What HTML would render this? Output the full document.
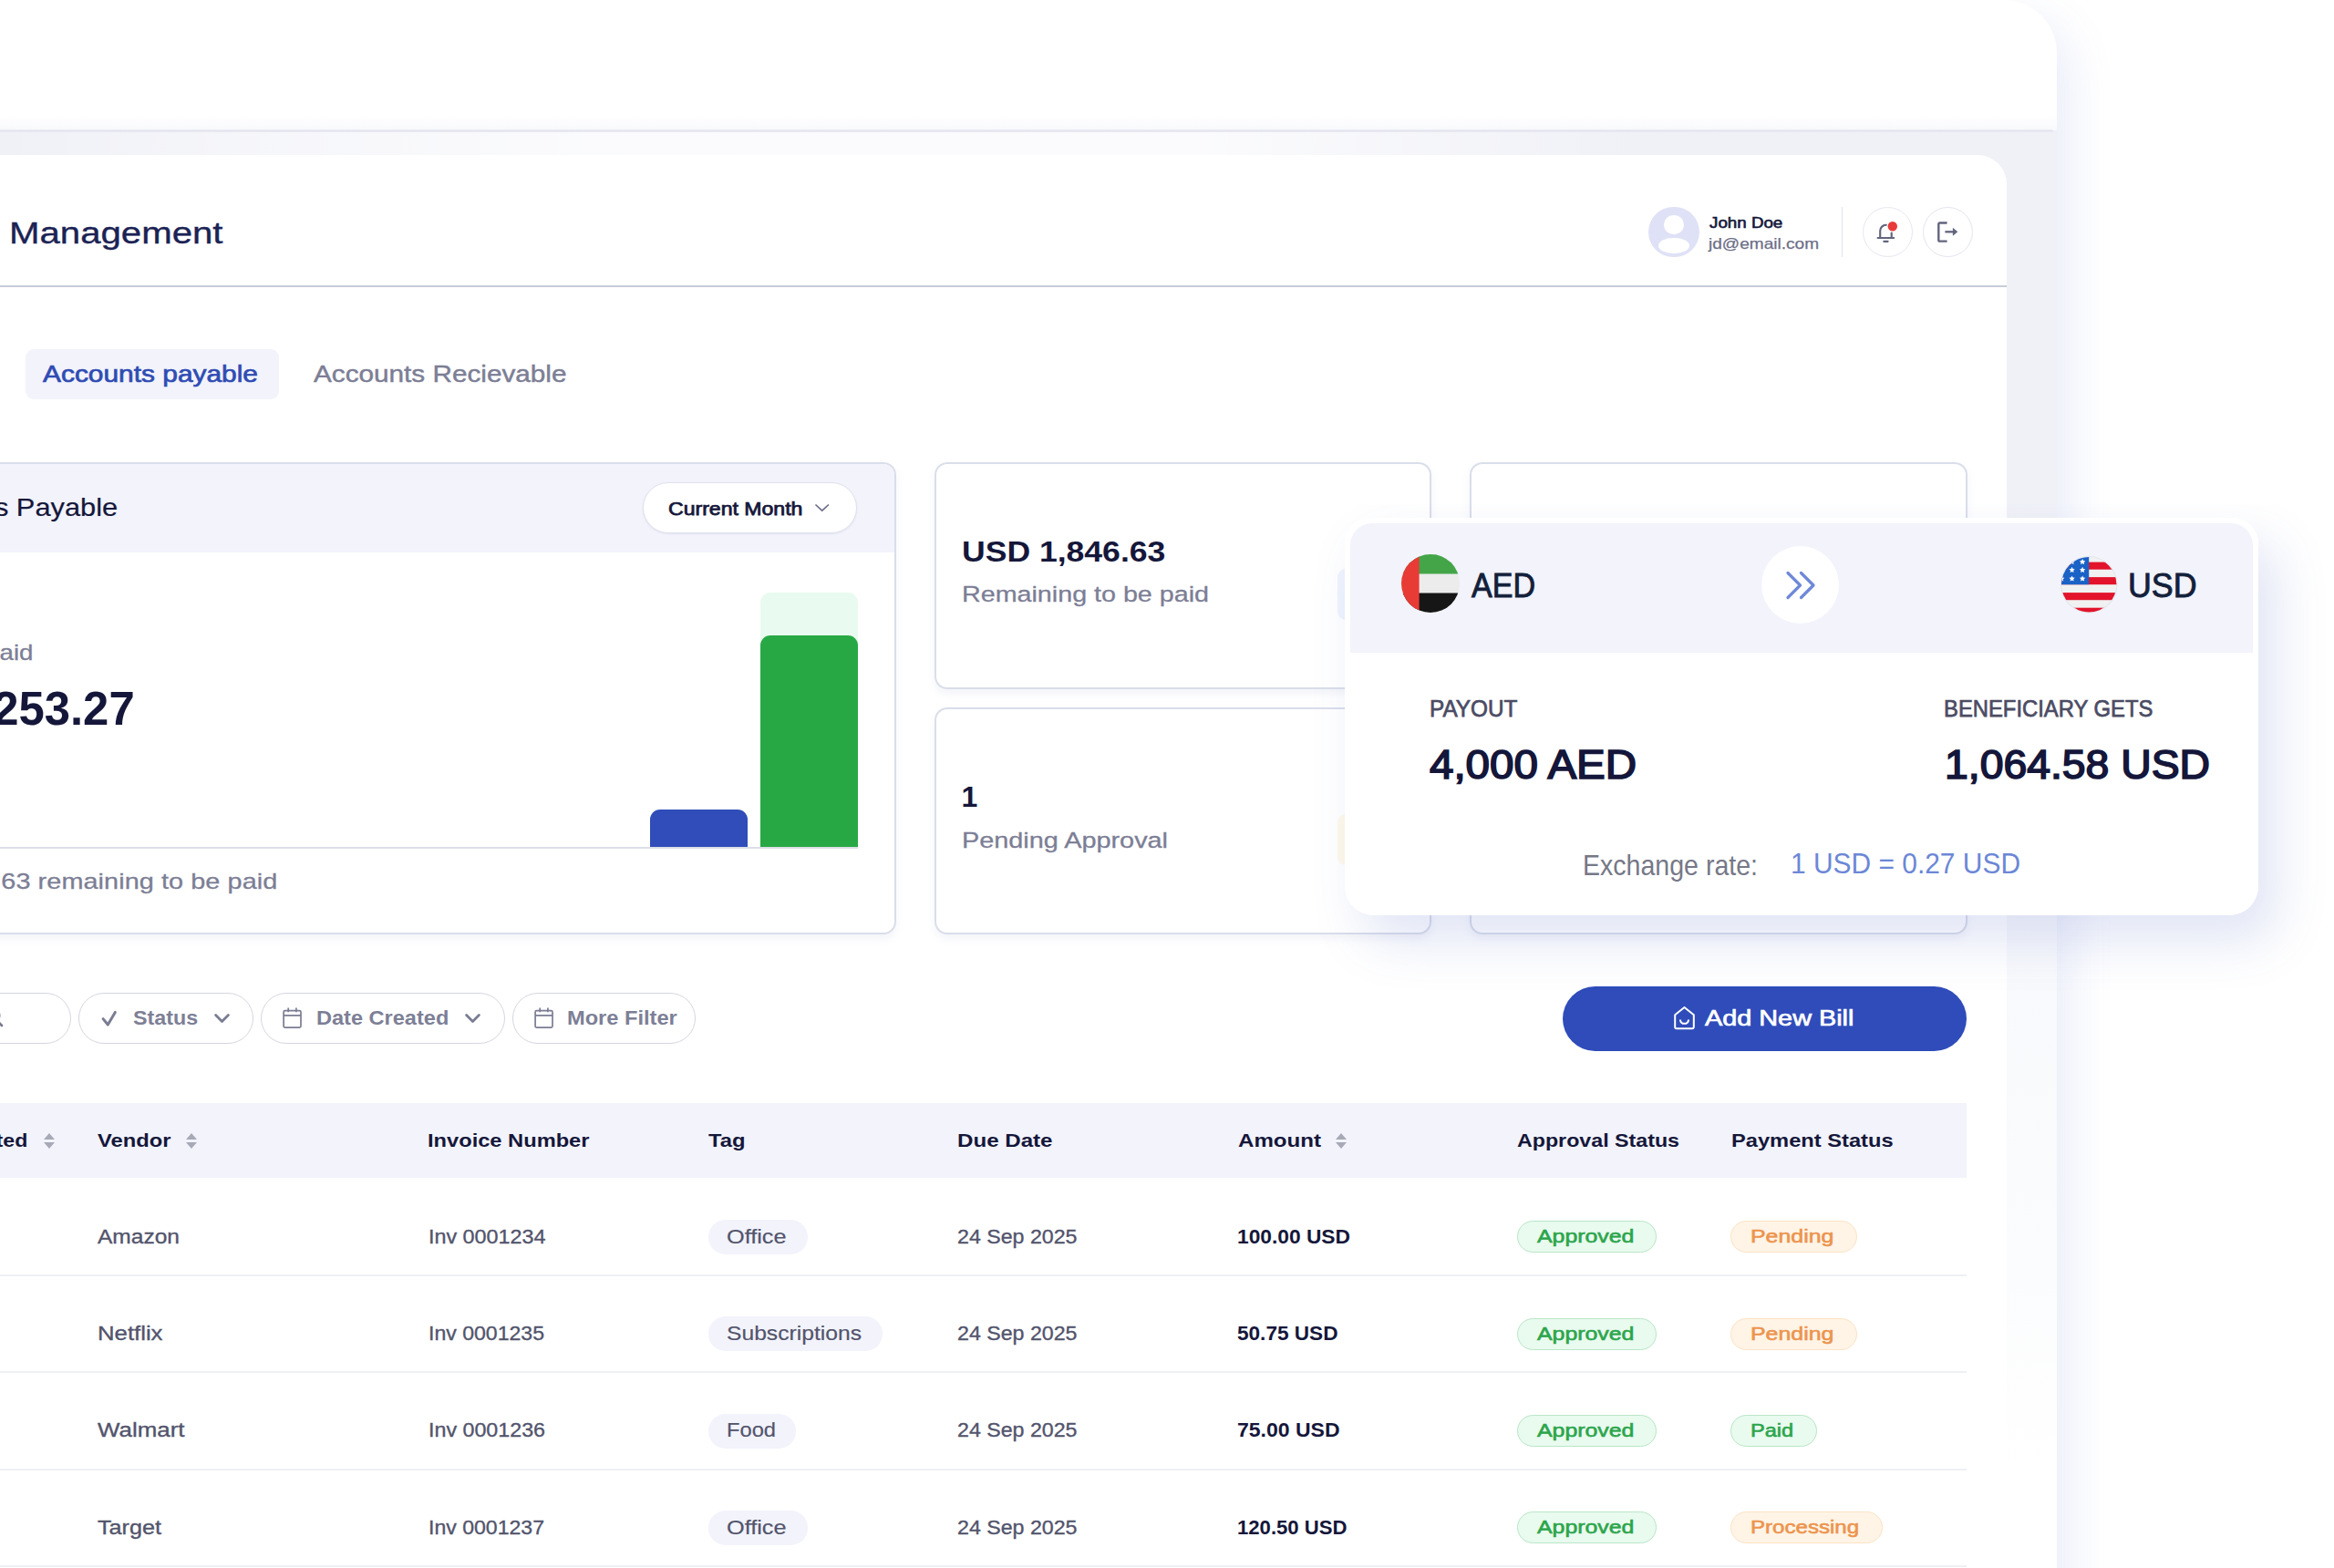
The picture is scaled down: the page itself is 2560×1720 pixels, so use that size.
<!DOCTYPE html>
<html lang="en"><head><meta charset="utf-8"><title>Bill Management</title>
<style>
html,body{margin:0;padding:0}
html{overflow:hidden;width:2560px;height:1720px}
body{width:2560px;height:1720px;position:relative;overflow:hidden;background:#fff;font-family:"Liberation Sans","DejaVu Sans",sans-serif}
.page{position:absolute;left:0;top:0;width:2560px;height:1720px;overflow:hidden;background:#fff}
.a{position:absolute;box-sizing:border-box}
span.t{position:absolute;white-space:nowrap}
.card{background:#fff;border:2px solid #dadeea;border-radius:14px;box-shadow:0 5px 10px rgba(160,170,205,.13)}
.pill{background:#fff;border:1.6px solid #d5d6e0;border-radius:30px;height:56px;top:1089px}
.sep{left:0;width:2157px;height:2px;background:#eff0f4}
.tag{height:38px;border-radius:19px;background:#f2f3fb}
.ok{height:35px;border-radius:18px;background:#e9faef;border:1px solid #b9e6c7}
.wait{height:35px;border-radius:18px;background:#fff4e6;border:1px solid #fbe3c4}
svg{position:absolute;overflow:visible}
</style></head>
<body>
<div class="page">
<div class="app-window">
<div class="a" style="left:-100px;top:0;width:2356px;height:1900px;border-radius:0 58px 0 0;background:#fff;box-shadow:14px 20px 50px rgba(95,115,205,.13)"></div>
<div class="a" style="left:0;top:126px;width:2256px;height:17px;background:linear-gradient(to bottom,rgba(248,249,252,0),rgba(248,249,252,1))"></div>
<div class="a" style="left:0;top:143px;width:2256px;height:1577px;background:linear-gradient(to bottom,#f0f1f7 0,#f0f1f7 380px,#f3f4f9 700px,#f8f9fc 900px,#fbfcfd 1250px,#fff 1480px)"></div>
<div class="a" style="left:0;top:145px;width:1800px;height:25px;background:linear-gradient(to right,rgba(255,255,255,0) 0,rgba(255,255,255,.42) 300px,rgba(255,255,255,.7) 640px,rgba(255,255,255,.75) 1300px,rgba(255,255,255,.3) 1600px,rgba(255,255,255,0) 1800px)"></div>
<div class="a" style="left:0;top:142px;width:2252px;height:3px;background:linear-gradient(to bottom,#eeeff5,#e4e5ee 50%,#e9eaf2);border-radius:0 3px 3px 0"></div>
<div class="a" style="left:-60px;top:170px;width:2261px;height:1700px;border-radius:0 32px 0 0;background:#fff"></div>
<div class="a" style="left:0;top:313px;width:2201px;height:1.6px;background:#c8cdd6"></div>
</div>
<header>
<div class="a" style="left:1808px;top:226.5px;width:55.5px;height:55.5px;border-radius:50%;background:#dfe1f6;overflow:hidden"><div class="a" style="left:17px;top:9px;width:21.5px;height:21.5px;border-radius:50%;background:#fff"></div><div class="a" style="left:11px;top:34px;width:33.5px;height:17.5px;border-radius:50%;background:#fff"></div></div>
<div class="a" style="left:2019.5px;top:227px;width:1.5px;height:55px;background:#e0e2ec"></div>
<div class="a" style="left:2042.5px;top:227px;width:55px;height:55px;border-radius:50%;border:1.5px solid #e6e7f1;background:#fff"></div>
<div class="a" style="left:2108.8px;top:227px;width:55px;height:55px;border-radius:50%;border:1.5px solid #e3e5ef;background:#fff"></div>
<svg style="left:2050px;top:235px" width="110" height="40" viewBox="2050 235 110 40"><g fill="none" stroke="#63657d" stroke-width="2.15" stroke-linecap="round" stroke-linejoin="round"><path d="M2059.6 261H2077.2M2062.2 261V253.3a6.4 6.5 0 0 1 6.6-6.5M2074.7 255.6V261M2066.3 264.8H2070.6"/><path d="M2135.6 244.5H2127.7a1.4 1.4 0 0 0-1.4 1.4V263.2a1.4 1.4 0 0 0 1.4 1.4H2135.6" stroke-width="2.4" stroke-linecap="butt"/><path d="M2133.4 254.3H2143" stroke-width="2.3" stroke-linecap="butt"/></g><path d="M2141.9 249.8L2147.3 254.3L2141.9 258.8z" fill="#63657d"/><circle cx="2075.8" cy="248.3" r="5.2" fill="#e83a3a"/></svg>
<span class="t" style="font-size:33.5px;line-height:33.5px;top:239.44px;color:#1b2354;-webkit-text-stroke:0.35px #1b2354;right:2315.00px;transform:scaleX(1.1992);transform-origin:100% 50%;">Bill Management</span>
<span class="t" style="font-size:16.6px;line-height:16.6px;top:236.55px;color:#15173a;-webkit-text-stroke:0.6px #15173a;left:1874.50px;transform:scaleX(1.1302);transform-origin:0 50%;">John Doe</span>
<span class="t" style="font-size:16.6px;line-height:16.6px;top:259.75px;color:#6c6e87;-webkit-text-stroke:0.25px #6c6e87;left:1874.30px;transform:scaleX(1.1483);transform-origin:0 50%;">jd@email.com</span>
</header>
<nav>
<div class="a" style="left:28px;top:383px;width:277.5px;height:55px;border-radius:9px;background:#f2f3fb"></div>
<span class="t" style="font-size:26.4px;line-height:26.4px;top:397.15px;color:#2f4cb3;-webkit-text-stroke:0.7px #2f4cb3;left:47.20px;transform:scaleX(1.1327);transform-origin:0 50%;">Accounts payable</span>
<span class="t" style="font-size:26.4px;line-height:26.4px;top:397.15px;color:#7c7e95;-webkit-text-stroke:0.45px #7c7e95;left:344.00px;transform:scaleX(1.1260);transform-origin:0 50%;">Accounts Recievable</span>
</nav>
<section class="payable-chart">
<div class="a card" style="left:-40px;top:506.5px;width:1023px;height:518.5px;overflow:hidden"><div class="a" style="left:0;top:0;width:1023px;height:97.5px;background:#f2f3fb"></div></div>
<div class="a" style="left:704.5px;top:528.8px;width:235px;height:56px;border-radius:28px;border:1.5px solid #dfe1ec;background:#fff;box-shadow:0 1px 2px rgba(150,155,190,.18)"></div>
<svg style="left:893.6px;top:552.6px" width="16" height="9" viewBox="0 0 16 9"><path d="M1 1l6.7 6.2L14.4 1" fill="none" stroke="#6a6c84" stroke-width="1.7" stroke-linecap="round" stroke-linejoin="round"/></svg>
<div class="a" style="left:834px;top:650px;width:106.5px;height:279px;border-radius:11px 11px 0 0;background:#e9faf0"></div>
<div class="a" style="left:834px;top:697px;width:106.5px;height:232px;border-radius:11px 11px 0 0;background:#28a845"></div>
<div class="a" style="left:713px;top:887.5px;width:106.5px;height:41.5px;border-radius:11px 11px 0 0;background:#304db9"></div>
<div class="a" style="left:0;top:928.5px;width:941px;height:2px;background:#dcdfe9"></div>
<span class="t" style="font-size:27.5px;line-height:27.5px;top:543.12px;color:#15173a;-webkit-text-stroke:0.2px #15173a;right:2430.70px;transform:scaleX(1.1198);transform-origin:100% 50%;">Accounts Payable</span>
<span class="t" style="font-size:19.4px;line-height:19.4px;top:549.38px;color:#15173a;-webkit-text-stroke:0.75px #15173a;left:732.80px;transform:scaleX(1.1893);transform-origin:0 50%;">Current Month</span>
<span class="t" style="font-size:24px;line-height:24px;top:703.98px;color:#7c7e95;-webkit-text-stroke:0.3px #7c7e95;right:2523.30px;transform:scaleX(1.1520);transform-origin:100% 50%;">Total Paid</span>
<span class="t" style="font-size:52px;line-height:52px;top:750.68px;color:#15173a;font-weight:700;right:2412.70px;transform:scaleX(0.9774);transform-origin:100% 50%;">USD 3,253.27</span>
<span class="t" style="font-size:24px;line-height:24px;top:954.98px;color:#7c7e95;letter-spacing:0.075px;-webkit-text-stroke:0.3px #7c7e95;right:2255.41px;transform:scaleX(1.2000);transform-origin:100% 50%;">USD 1,846.63 remaining to be paid</span>
</section>
<section class="stats">
<div class="a card" style="left:1025px;top:506.5px;width:545px;height:249px"></div>
<div class="a card" style="left:1025px;top:776px;width:545px;height:249px"></div>
<div class="a card" style="left:1612px;top:506.5px;width:545.5px;height:518.5px"></div>
<div class="a" style="left:1467px;top:624px;width:56px;height:56px;border-radius:9px;background:#eff4fd"></div>
<div class="a" style="left:1467px;top:893px;width:56px;height:56px;border-radius:9px;background:#fff9ea"></div>
<span class="t" style="font-size:32px;line-height:32px;top:588.91px;color:#15173a;font-weight:700;left:1055.40px;transform:scaleX(1.1109);transform-origin:0 50%;">USD 1,846.63</span>
<span class="t" style="font-size:24.5px;line-height:24.5px;top:640.06px;color:#7c7e95;-webkit-text-stroke:0.3px #7c7e95;left:1055.40px;transform:scaleX(1.1704);transform-origin:0 50%;">Remaining to be paid</span>
<span class="t" style="font-size:32px;line-height:32px;top:858.11px;color:#15173a;font-weight:700;left:1054.50px;">1</span>
<span class="t" style="font-size:24.5px;line-height:24.5px;top:910.06px;color:#7c7e95;-webkit-text-stroke:0.3px #7c7e95;left:1055.40px;transform:scaleX(1.1766);transform-origin:0 50%;">Pending Approval</span>
</section>
<div class="toolbar">
<div class="a pill" style="left:-60px;width:138px"></div>
<div class="a pill" style="left:86px;width:191.5px"></div>
<div class="a pill" style="left:286px;width:267.5px"></div>
<div class="a pill" style="left:561.5px;width:201px"></div>
<svg style="left:-16.5px;top:1104.5px" width="22" height="24" viewBox="0 0 22 24"><circle cx="8" cy="9" r="7.3" fill="none" stroke="#77798f" stroke-width="2.4"/><path d="M13 14.6l5 5.4" stroke="#77798f" stroke-width="2.6" stroke-linecap="round"/></svg>
<svg style="left:110px;top:1107px" width="20" height="20" viewBox="0 0 20 20"><path d="M3.1 10.6L8.3 17L16.3 3.4" fill="none" stroke="#7a7c93" stroke-width="3" stroke-linecap="round" stroke-linejoin="round"/></svg>
<svg style="left:234.5px;top:1112px" width="17" height="10" viewBox="0 0 17 10"><path d="M1.6 1.6l6.9 6.8 6.9-6.8" fill="none" stroke="#7a7c93" stroke-width="2.8" stroke-linecap="round" stroke-linejoin="round"/></svg>
<svg style="left:510px;top:1112px" width="17" height="10" viewBox="0 0 17 10"><path d="M1.6 1.6l6.9 6.8 6.9-6.8" fill="none" stroke="#7a7c93" stroke-width="2.8" stroke-linecap="round" stroke-linejoin="round"/></svg>
<svg style="left:310.2px;top:1104.6px" width="21" height="23" viewBox="0 0 21 23"><rect x="1.1" y="3.7" width="18.9" height="18.5" rx="1.6" fill="none" stroke="#7a7c93" stroke-width="1.7"/><path d="M1.1 8.9h18.9M6.2 .6v4.6M14.9 .6v4.6" fill="none" stroke="#7a7c93" stroke-width="1.7"/></svg>
<svg style="left:585.7px;top:1104.6px" width="21" height="23" viewBox="0 0 21 23"><rect x="1.1" y="3.7" width="18.9" height="18.5" rx="1.6" fill="none" stroke="#7a7c93" stroke-width="1.7"/><path d="M1.1 8.9h18.9M6.2 .6v4.6M14.9 .6v4.6" fill="none" stroke="#7a7c93" stroke-width="1.7"/></svg>
<div class="a" style="left:1713.5px;top:1082px;width:443.5px;height:70.5px;border-radius:36px;background:#2f4cba"></div>
<svg style="left:1835.2px;top:1103.2px" width="25" height="27" viewBox="0 0 25 27"><path d="M2.2 10.2L12.5 2l10.3 8.2v13.4a1.6 1.6 0 0 1-1.6 1.6H3.8a1.6 1.6 0 0 1-1.6-1.6z" fill="none" stroke="#fff" stroke-width="2" stroke-linejoin="round"/><path d="M8 16.2a4.6 4.6 0 0 0 9 0" fill="none" stroke="#fff" stroke-width="2" stroke-linecap="round"/></svg>
<span class="t" style="font-size:22px;line-height:22px;top:1105.88px;color:#7d7f96;font-weight:700;left:145.60px;transform:scaleX(1.0587);transform-origin:0 50%;">Status</span>
<span class="t" style="font-size:22px;line-height:22px;top:1105.88px;color:#7d7f96;font-weight:700;left:347.00px;transform:scaleX(1.0706);transform-origin:0 50%;">Date Created</span>
<span class="t" style="font-size:22px;line-height:22px;top:1105.88px;color:#7d7f96;font-weight:700;left:622.00px;transform:scaleX(1.0741);transform-origin:0 50%;">More Filter</span>
<span class="t" style="font-size:24.2px;line-height:24.2px;top:1105.11px;color:#fff;-webkit-text-stroke:0.7px #fff;left:1870.00px;transform:scaleX(1.1916);transform-origin:0 50%;">Add New Bill</span>
</div>
<section class="bills-table">
<div class="a" style="left:0;top:1210.3px;width:2157px;height:82px;background:#f2f3fb"></div>
<svg style="left:48.4px;top:1242.6px" width="12" height="17" viewBox="0 0 12 17"><path d="M6 0l6 7H0z" fill="#a7a9b7"/><path d="M6 17l6-7H0z" fill="#a7a9b7"/></svg>
<svg style="left:204.2px;top:1242.6px" width="12" height="17" viewBox="0 0 12 17"><path d="M6 0l6 7H0z" fill="#a7a9b7"/><path d="M6 17l6-7H0z" fill="#a7a9b7"/></svg>
<svg style="left:1465px;top:1242.6px" width="12" height="17" viewBox="0 0 12 17"><path d="M6 0l6 7H0z" fill="#a7a9b7"/><path d="M6 17l6-7H0z" fill="#a7a9b7"/></svg>
<div class="a sep" style="top:1398px"></div>
<div class="a sep" style="top:1504px"></div>
<div class="a sep" style="top:1611px"></div>
<div class="a sep" style="top:1717px"></div>
<div class="a tag" style="left:777px;top:1338.1px;width:109px"></div>
<div class="a ok" style="left:1664px;top:1339.3px;width:153px"></div>
<div class="a wait" style="left:1898px;top:1339.3px;width:139px"></div>
<div class="a tag" style="left:777px;top:1444.4px;width:191px"></div>
<div class="a ok" style="left:1664px;top:1445.6px;width:153px"></div>
<div class="a wait" style="left:1898px;top:1445.6px;width:139px"></div>
<div class="a tag" style="left:777px;top:1550.8px;width:95.5px"></div>
<div class="a ok" style="left:1664px;top:1552.0px;width:153px"></div>
<div class="a ok" style="left:1898px;top:1552.0px;width:94.5px"></div>
<div class="a tag" style="left:777px;top:1657.1px;width:109px"></div>
<div class="a ok" style="left:1664px;top:1658.3px;width:153px"></div>
<div class="a wait" style="left:1898px;top:1658.3px;width:166.5px"></div>
<span class="t" style="font-size:20.8px;line-height:20.8px;top:1241.29px;color:#15173a;font-weight:700;right:2529.50px;transform:scaleX(1.1120);transform-origin:100% 50%;">Date Created</span>
<span class="t" style="font-size:20.8px;line-height:20.8px;top:1241.29px;color:#15173a;font-weight:700;left:106.50px;transform:scaleX(1.1418);transform-origin:0 50%;">Vendor</span>
<span class="t" style="font-size:20.8px;line-height:20.8px;top:1241.29px;color:#15173a;font-weight:700;left:468.70px;transform:scaleX(1.1376);transform-origin:0 50%;">Invoice Number</span>
<span class="t" style="font-size:20.8px;line-height:20.8px;top:1241.29px;color:#15173a;font-weight:700;left:777.00px;transform:scaleX(1.1429);transform-origin:0 50%;">Tag</span>
<span class="t" style="font-size:20.8px;line-height:20.8px;top:1241.29px;color:#15173a;font-weight:700;left:1050.00px;transform:scaleX(1.1591);transform-origin:0 50%;">Due Date</span>
<span class="t" style="font-size:20.8px;line-height:20.8px;top:1241.29px;color:#15173a;font-weight:700;left:1357.50px;transform:scaleX(1.1585);transform-origin:0 50%;">Amount</span>
<span class="t" style="font-size:20.8px;line-height:20.8px;top:1241.29px;color:#15173a;font-weight:700;left:1664.00px;transform:scaleX(1.1161);transform-origin:0 50%;">Approval Status</span>
<span class="t" style="font-size:20.8px;line-height:20.8px;top:1241.29px;color:#15173a;font-weight:700;left:1898.60px;transform:scaleX(1.1382);transform-origin:0 50%;">Payment Status</span>
<span class="t" style="font-size:22.4px;line-height:22.4px;top:1345.54px;color:#52546c;-webkit-text-stroke:0.35px #52546c;left:106.80px;transform:scaleX(1.0957);transform-origin:0 50%;">Amazon</span>
<span class="t" style="font-size:22.4px;line-height:22.4px;top:1345.54px;color:#52546c;-webkit-text-stroke:0.35px #52546c;left:469.50px;transform:scaleX(1.0425);transform-origin:0 50%;">Inv 0001234</span>
<span class="t" style="font-size:22.4px;line-height:22.4px;top:1345.54px;color:#52546c;-webkit-text-stroke:0.2px #52546c;left:797.00px;transform:scaleX(1.1278);transform-origin:0 50%;">Office</span>
<span class="t" style="font-size:22.4px;line-height:22.4px;top:1345.54px;color:#52546c;-webkit-text-stroke:0.35px #52546c;left:1050.00px;transform:scaleX(1.0354);transform-origin:0 50%;">24 Sep 2025</span>
<span class="t" style="font-size:22.4px;line-height:22.4px;top:1345.54px;color:#15173a;font-weight:700;left:1357.00px;transform:scaleX(1.0165);transform-origin:0 50%;">100.00 USD</span>
<span class="t" style="font-size:20.8px;line-height:20.8px;top:1346.39px;color:#2ba54b;-webkit-text-stroke:0.6px #2ba54b;left:1685.70px;transform:scaleX(1.1951);transform-origin:0 50%;">Approved</span>
<span class="t" style="font-size:20.8px;line-height:20.8px;top:1346.39px;color:#ec944e;-webkit-text-stroke:0.6px #ec944e;left:1920.30px;transform:scaleX(1.1975);transform-origin:0 50%;">Pending</span>
<span class="t" style="font-size:22.4px;line-height:22.4px;top:1451.89px;color:#52546c;-webkit-text-stroke:0.35px #52546c;left:106.80px;transform:scaleX(1.1492);transform-origin:0 50%;">Netflix</span>
<span class="t" style="font-size:22.4px;line-height:22.4px;top:1451.89px;color:#52546c;-webkit-text-stroke:0.35px #52546c;left:469.50px;transform:scaleX(1.0303);transform-origin:0 50%;">Inv 0001235</span>
<span class="t" style="font-size:22.4px;line-height:22.4px;top:1451.89px;color:#52546c;-webkit-text-stroke:0.2px #52546c;left:797.00px;transform:scaleX(1.1010);transform-origin:0 50%;">Subscriptions</span>
<span class="t" style="font-size:22.4px;line-height:22.4px;top:1451.89px;color:#52546c;-webkit-text-stroke:0.35px #52546c;left:1050.00px;transform:scaleX(1.0354);transform-origin:0 50%;">24 Sep 2025</span>
<span class="t" style="font-size:22.4px;line-height:22.4px;top:1451.89px;color:#15173a;font-weight:700;left:1357.00px;transform:scaleX(1.0088);transform-origin:0 50%;">50.75 USD</span>
<span class="t" style="font-size:20.8px;line-height:20.8px;top:1452.74px;color:#2ba54b;-webkit-text-stroke:0.6px #2ba54b;left:1685.70px;transform:scaleX(1.1951);transform-origin:0 50%;">Approved</span>
<span class="t" style="font-size:20.8px;line-height:20.8px;top:1452.74px;color:#ec944e;-webkit-text-stroke:0.6px #ec944e;left:1920.30px;transform:scaleX(1.1975);transform-origin:0 50%;">Pending</span>
<span class="t" style="font-size:22.4px;line-height:22.4px;top:1558.24px;color:#52546c;-webkit-text-stroke:0.35px #52546c;left:106.80px;transform:scaleX(1.1574);transform-origin:0 50%;">Walmart</span>
<span class="t" style="font-size:22.4px;line-height:22.4px;top:1558.24px;color:#52546c;-webkit-text-stroke:0.35px #52546c;left:469.50px;transform:scaleX(1.0384);transform-origin:0 50%;">Inv 0001236</span>
<span class="t" style="font-size:22.4px;line-height:22.4px;top:1558.24px;color:#52546c;-webkit-text-stroke:0.2px #52546c;left:797.00px;transform:scaleX(1.0579);transform-origin:0 50%;">Food</span>
<span class="t" style="font-size:22.4px;line-height:22.4px;top:1558.24px;color:#52546c;-webkit-text-stroke:0.35px #52546c;left:1050.00px;transform:scaleX(1.0354);transform-origin:0 50%;">24 Sep 2025</span>
<span class="t" style="font-size:22.4px;line-height:22.4px;top:1558.24px;color:#15173a;font-weight:700;left:1357.00px;transform:scaleX(1.0271);transform-origin:0 50%;">75.00 USD</span>
<span class="t" style="font-size:20.8px;line-height:20.8px;top:1559.09px;color:#2ba54b;-webkit-text-stroke:0.6px #2ba54b;left:1685.70px;transform:scaleX(1.1951);transform-origin:0 50%;">Approved</span>
<span class="t" style="font-size:20.8px;line-height:20.8px;top:1559.09px;color:#2ba54b;-webkit-text-stroke:0.6px #2ba54b;left:1920.30px;transform:scaleX(1.1315);transform-origin:0 50%;">Paid</span>
<span class="t" style="font-size:22.4px;line-height:22.4px;top:1664.59px;color:#52546c;-webkit-text-stroke:0.35px #52546c;left:106.80px;transform:scaleX(1.1248);transform-origin:0 50%;">Target</span>
<span class="t" style="font-size:22.4px;line-height:22.4px;top:1664.59px;color:#52546c;-webkit-text-stroke:0.35px #52546c;left:469.50px;transform:scaleX(1.0303);transform-origin:0 50%;">Inv 0001237</span>
<span class="t" style="font-size:22.4px;line-height:22.4px;top:1664.59px;color:#52546c;-webkit-text-stroke:0.2px #52546c;left:797.00px;transform:scaleX(1.1278);transform-origin:0 50%;">Office</span>
<span class="t" style="font-size:22.4px;line-height:22.4px;top:1664.59px;color:#52546c;-webkit-text-stroke:0.35px #52546c;left:1050.00px;transform:scaleX(1.0354);transform-origin:0 50%;">24 Sep 2025</span>
<span class="t" style="font-size:22.4px;line-height:22.4px;top:1664.59px;color:#15173a;font-weight:700;left:1357.00px;transform:scaleX(0.9878);transform-origin:0 50%;">120.50 USD</span>
<span class="t" style="font-size:20.8px;line-height:20.8px;top:1665.44px;color:#2ba54b;-webkit-text-stroke:0.6px #2ba54b;left:1685.70px;transform:scaleX(1.1951);transform-origin:0 50%;">Approved</span>
<span class="t" style="font-size:20.8px;line-height:20.8px;top:1665.44px;color:#ec944e;-webkit-text-stroke:0.6px #ec944e;left:1920.30px;transform:scaleX(1.1575);transform-origin:0 50%;">Processing</span>
</section>
<aside class="fx-card">
<div class="a" style="left:1475px;top:567.5px;width:1002px;height:436.5px;border-radius:28px 28px 32px 32px;background:#fff;box-shadow:20px 28px 55px rgba(75,98,195,.17);clip-path:inset(-14px -220px -220px -45px)"></div>
<div class="a" style="left:1475px;top:567.5px;width:1002px;height:436.5px;border-radius:28px 28px 32px 32px;background:#fff"></div>
<div class="a" style="left:1481px;top:573.5px;width:989.5px;height:142.5px;border-radius:24px 24px 0 0;background:#f2f3fb"></div>
<svg style="left:1537.1px;top:608.1px" width="64" height="64" viewBox="0 0 64 64"><defs><clipPath id="cu"><circle cx="32" cy="32" r="32"/></clipPath></defs><g clip-path="url(#cu)"><rect width="64" height="22" x="0" y="0" fill="#43a548"/><rect width="64" height="21.5" x="0" y="21.5" fill="#ececec"/><rect width="64" height="21.5" x="0" y="42.5" fill="#161616"/><path d="M34 0h30v22a40 40 0 0 0-30-22z" fill="#3a9a44" opacity=".6"/><rect width="19.6" height="64" x="0" y="0" fill="#e83b36"/></g></svg>
<div class="a" style="left:1931.5px;top:599px;width:85px;height:85px;border-radius:50%;background:#fff"></div>
<svg style="left:1958px;top:626px" width="34" height="32" viewBox="0 0 34 32"><path d="M3 2.5l13.5 13.5L3 29.5M17.5 2.5L31 16 17.5 29.5" fill="none" stroke="#6f88d8" stroke-width="3.3" stroke-linecap="round" stroke-linejoin="round"/></svg>
<svg style="left:2260.2px;top:610px" width="62.5" height="62.5" viewBox="0 0 62.5 62.5"><defs><clipPath id="cs"><circle cx="31.25" cy="31.25" r="30.2"/></clipPath></defs><circle cx="31.25" cy="31.25" r="31.25" fill="#e3e5ee"/><g clip-path="url(#cs)"><rect x="0" y="0" width="63" height="63" fill="#f1f1f1"/><rect x="0" y="6.6" width="63" height="8.1" fill="#e2132b"/><rect x="0" y="23.1" width="63" height="8.1" fill="#e2132b"/><rect x="0" y="40.1" width="63" height="8.1" fill="#e2132b"/><rect x="0" y="56.7" width="63" height="7" fill="#e2132b"/><rect x="0" y="0" width="31.2" height="31.2" fill="#1a62c6"/><path transform="translate(1.2,6.4) scale(.34)" d="M0-10l2.9 6.2 6.6.8-4.9 4.6 1.3 6.6L0 5l-5.9 3.2 1.3-6.6-4.9-4.6 6.6-.8z" fill="#fff"/><path transform="translate(1.2,15.2) scale(.34)" d="M0-10l2.9 6.2 6.6.8-4.9 4.6 1.3 6.6L0 5l-5.9 3.2 1.3-6.6-4.9-4.6 6.6-.8z" fill="#fff"/><path transform="translate(1.2,24.8) scale(.34)" d="M0-10l2.9 6.2 6.6.8-4.9 4.6 1.3 6.6L0 5l-5.9 3.2 1.3-6.6-4.9-4.6 6.6-.8z" fill="#fff"/><path transform="translate(12.6,6.4) scale(.34)" d="M0-10l2.9 6.2 6.6.8-4.9 4.6 1.3 6.6L0 5l-5.9 3.2 1.3-6.6-4.9-4.6 6.6-.8z" fill="#fff"/><path transform="translate(12.6,15.2) scale(.34)" d="M0-10l2.9 6.2 6.6.8-4.9 4.6 1.3 6.6L0 5l-5.9 3.2 1.3-6.6-4.9-4.6 6.6-.8z" fill="#fff"/><path transform="translate(12.6,24.8) scale(.34)" d="M0-10l2.9 6.2 6.6.8-4.9 4.6 1.3 6.6L0 5l-5.9 3.2 1.3-6.6-4.9-4.6 6.6-.8z" fill="#fff"/><path transform="translate(24.1,6.4) scale(.34)" d="M0-10l2.9 6.2 6.6.8-4.9 4.6 1.3 6.6L0 5l-5.9 3.2 1.3-6.6-4.9-4.6 6.6-.8z" fill="#fff"/><path transform="translate(24.1,15.2) scale(.34)" d="M0-10l2.9 6.2 6.6.8-4.9 4.6 1.3 6.6L0 5l-5.9 3.2 1.3-6.6-4.9-4.6 6.6-.8z" fill="#fff"/><path transform="translate(24.1,24.8) scale(.34)" d="M0-10l2.9 6.2 6.6.8-4.9 4.6 1.3 6.6L0 5l-5.9 3.2 1.3-6.6-4.9-4.6 6.6-.8z" fill="#fff"/></g></svg>
<span class="t" style="font-size:37px;line-height:37px;top:624.18px;color:#13203a;-webkit-text-stroke:0.9px #13203a;left:1614.00px;transform:scaleX(0.9201);transform-origin:0 50%;z-index:5;">AED</span>
<span class="t" style="font-size:37px;line-height:37px;top:624.18px;color:#13203a;-webkit-text-stroke:0.9px #13203a;left:2334.00px;transform:scaleX(0.9664);transform-origin:0 50%;z-index:5;">USD</span>
<span class="t" style="font-size:26px;line-height:26px;top:764.49px;color:#4b4c64;-webkit-text-stroke:0.75px #4b4c64;left:1568.30px;transform:scaleX(0.9354);transform-origin:0 50%;z-index:5;">PAYOUT</span>
<span class="t" style="font-size:26px;line-height:26px;top:764.49px;color:#4b4c64;-webkit-text-stroke:0.75px #4b4c64;left:2132.00px;transform:scaleX(0.9159);transform-origin:0 50%;z-index:5;">BENEFICIARY GETS</span>
<span class="t" style="font-size:44.5px;line-height:44.5px;top:817.33px;color:#14163a;-webkit-text-stroke:1.7px #14163a;left:1568.00px;transform:scaleX(1.0669);transform-origin:0 50%;z-index:5;">4,000 AED</span>
<span class="t" style="font-size:44.5px;line-height:44.5px;top:817.33px;color:#14163a;-webkit-text-stroke:1.7px #14163a;left:2132.50px;transform:scaleX(1.0410);transform-origin:0 50%;z-index:5;">1,064.58 USD</span>
<span class="t" style="font-size:30.5px;line-height:30.5px;top:933.68px;color:#767887;left:1736.00px;transform:scaleX(0.9358);transform-origin:0 50%;z-index:5;">Exchange rate:</span>
<span class="t" style="font-size:30.5px;line-height:30.5px;top:932.18px;color:#6c87d6;left:1964.00px;transform:scaleX(0.9812);transform-origin:0 50%;z-index:5;">1 USD = 0.27 USD</span>
</aside>
</div>
</body></html>
